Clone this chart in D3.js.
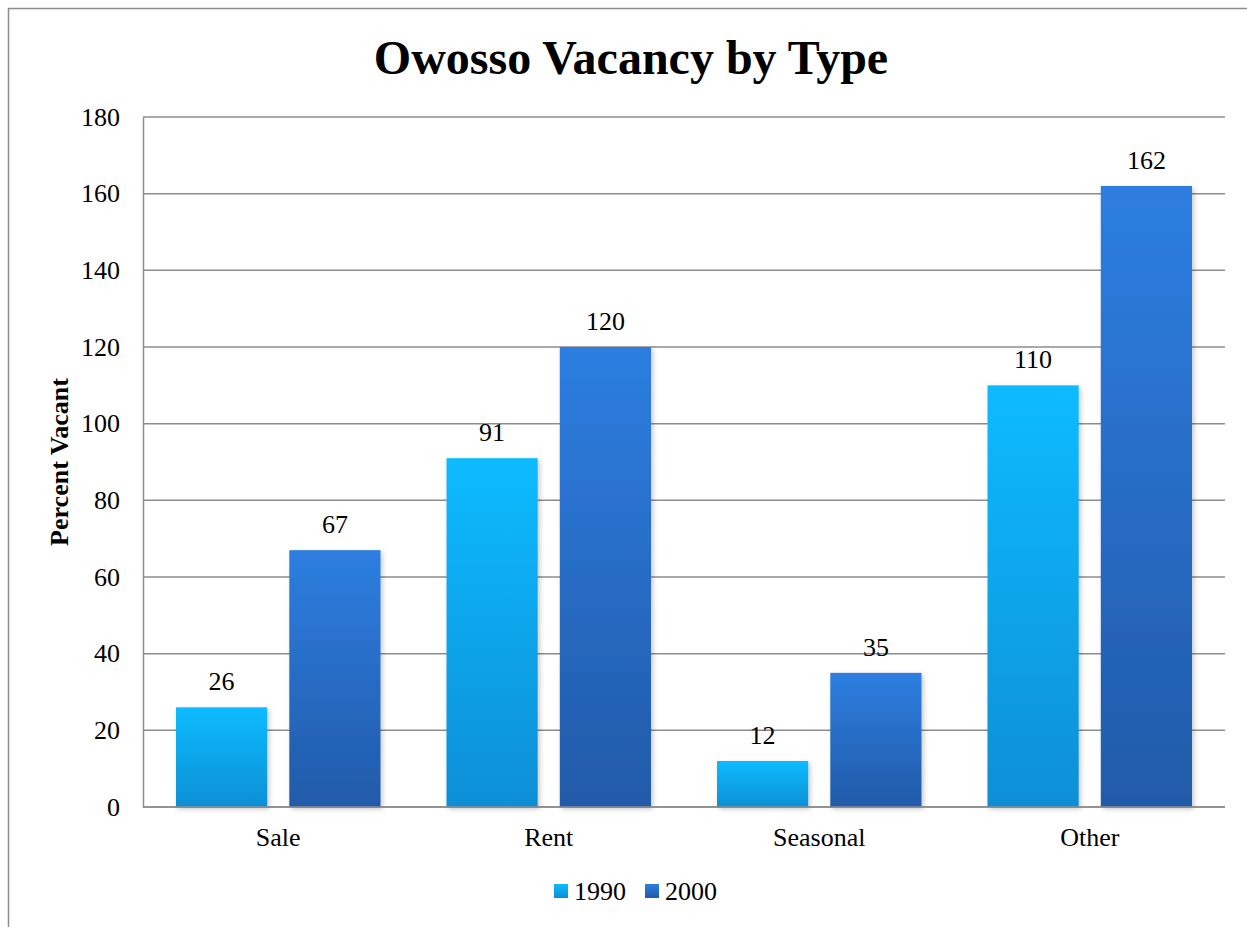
<!DOCTYPE html>
<html>
<head>
<meta charset="utf-8">
<script src="https://cdn.jsdelivr.net/npm/d3@7"></script>
<style>
  body { margin: 0; background: #fff; }
  text { font-family: "Liberation Serif", "Times New Roman", serif; fill: #000; }
</style>
</head>
<body>
<div id="chart"></div>
<script>
// chart data
const categories = ["Sale", "Rent", "Seasonal", "Other"];
const seriesNames = ["1990", "2000"];
const values1990 = [26, 91, 12, 110];
const values2000 = [67, 120, 35, 162];
const yTicks = [0, 20, 40, 60, 80, 100, 120, 140, 160, 180];

const width = 1247, height = 927;
const margin = {top: 117, right: 22, bottom: 120, left: 143};

const svg = d3.select("#chart").append("svg")
    .attr("width", width)
    .attr("height", height);

// gradients + soft shadow
const defs = svg.append("defs");
const gradColors = [["#10bbff", "#0a8fd6"], ["#2d7ee0", "#215aa9"]];
gradColors.forEach((c, i) => {
    let g = defs.append("linearGradient")
        .attr("id", "grad" + i)
        .attr("x1", 0).attr("y1", 0).attr("x2", 0).attr("y2", 1);
    g.append("stop").attr("offset", "0%").attr("stop-color", c[0]);
    g.append("stop").attr("offset", "100%").attr("stop-color", c[1]);
});
let shadow = defs.append("filter").attr("id", "shadow")
    .attr("x", "-10%").attr("y", "-10%").attr("width", "130%").attr("height", "130%");
shadow.append("feDropShadow")
    .attr("dx", 2).attr("dy", 2).attr("stdDeviation", 2.5)
    .attr("flood-color", "#000").attr("flood-opacity", 0.22);

// outer border (only top & left show in the frame)
svg.append("path")
    .attr("d", "M8.5," + height + "V8.5H" + width)
    .attr("fill", "none")
    .attr("stroke", "#8c8c8c")
    .attr("stroke-width", 1.5);

const plotW = width - margin.left - margin.right;
const plotH = height - margin.top - margin.bottom;

const x = d3.scaleBand()
    .domain(categories)
    .range([margin.left, margin.left + plotW]);

const y = d3.scaleLinear()
    .domain([0, 180])
    .range([margin.top + plotH, margin.top]);

// horizontal grid lines
svg.append("g")
    .selectAll("line")
    .data(yTicks)
    .enter().append("line")
    .attr("x1", margin.left)
    .attr("x2", margin.left + plotW)
    .attr("y1", d => y(d))
    .attr("y2", d => y(d))
    .attr("stroke", "#8c8c8c")
    .attr("stroke-width", 1.5);

// left axis
let yAxis = svg.append("g")
    .attr("transform", "translate(" + margin.left + ",0)")
    .call(d3.axisLeft(y).tickValues(yTicks).tickSize(0).tickPadding(23));
yAxis.select(".domain").attr("stroke", "#8c8c8c").attr("stroke-width", 1.5);
yAxis.selectAll("text")
    .style("font-family", "'Liberation Serif', serif")
    .style("font-size", "26px")
    .attr("fill", "#000");

// inner grouping of bars
const x1 = d3.scaleBand()
    .domain(seriesNames)
    .range([33, x.bandwidth() - 33])
    .paddingInner(0.195);

const rows = categories.map((c, i) => ({cat: c, vals: [values1990[i], values2000[i]]}));

let groups = svg.append("g").selectAll("g")
    .data(rows)
    .enter().append("g")
    .attr("transform", d => "translate(" + x(d.cat) + ",0)");

groups.selectAll("rect")
    .data(d => d.vals.map((v, j) => ({v: v, j: j})))
    .enter().append("rect")
    .attr("x", d => x1(seriesNames[d.j]))
    .attr("y", d => y(d.v))
    .attr("width", x1.bandwidth())
    .attr("height", d => y(0) - y(d.v))
    .attr("fill", d => "url(#grad" + d.j + ")")
    .attr("filter", "url(#shadow)");

// value labels
groups.selectAll("text.val")
    .data(d => d.vals.map((v, j) => ({v: v, j: j})))
    .enter().append("text")
    .attr("class", "val")
    .attr("x", d => x1(seriesNames[d.j]) + x1.bandwidth() / 2)
    .attr("y", d => y(d.v) - 17)
    .attr("text-anchor", "middle")
    .style("font-size", "26px")
    .text(d => d.v);

// redraw baseline on top of the shadows
svg.append("line")
    .attr("x1", margin.left).attr("x2", margin.left + plotW)
    .attr("y1", y(0)).attr("y2", y(0))
    .attr("stroke", "#8c8c8c").attr("stroke-width", 1.5);

// category labels
svg.append("g").selectAll("text")
    .data(categories)
    .enter().append("text")
    .attr("x", d => x(d) + x.bandwidth() / 2)
    .attr("y", 846)
    .attr("text-anchor", "middle")
    .style("font-size", "26px")
    .text(d => d);

// title
svg.append("text")
    .attr("x", 631)
    .attr("y", 74)
    .attr("text-anchor", "middle")
    .style("font-size", "48px")
    .style("font-weight", "bold")
    .text("Owosso Vacancy by Type");

// y axis title
svg.append("text")
    .attr("transform", "translate(68," + (margin.top + plotH / 2) + ") rotate(-90)")
    .attr("text-anchor", "middle")
    .style("font-size", "26px")
    .style("font-weight", "bold")
    .text("Percent Vacant");

// legend
let legend = svg.append("g").attr("transform", "translate(554,884)");
let legendPos = [0, 91];
seriesNames.forEach((s, i) => {
    let lg = legend.append("g").attr("transform", "translate(" + legendPos[i] + ",0)");
    lg.append("rect")
        .attr("width", 14).attr("height", 14)
        .attr("fill", "url(#grad" + i + ")");
    lg.append("text")
        .attr("x", 20)
        .attr("y", 16)
        .style("font-size", "26px")
        .text(s);
});
</script>
</body>
</html>
